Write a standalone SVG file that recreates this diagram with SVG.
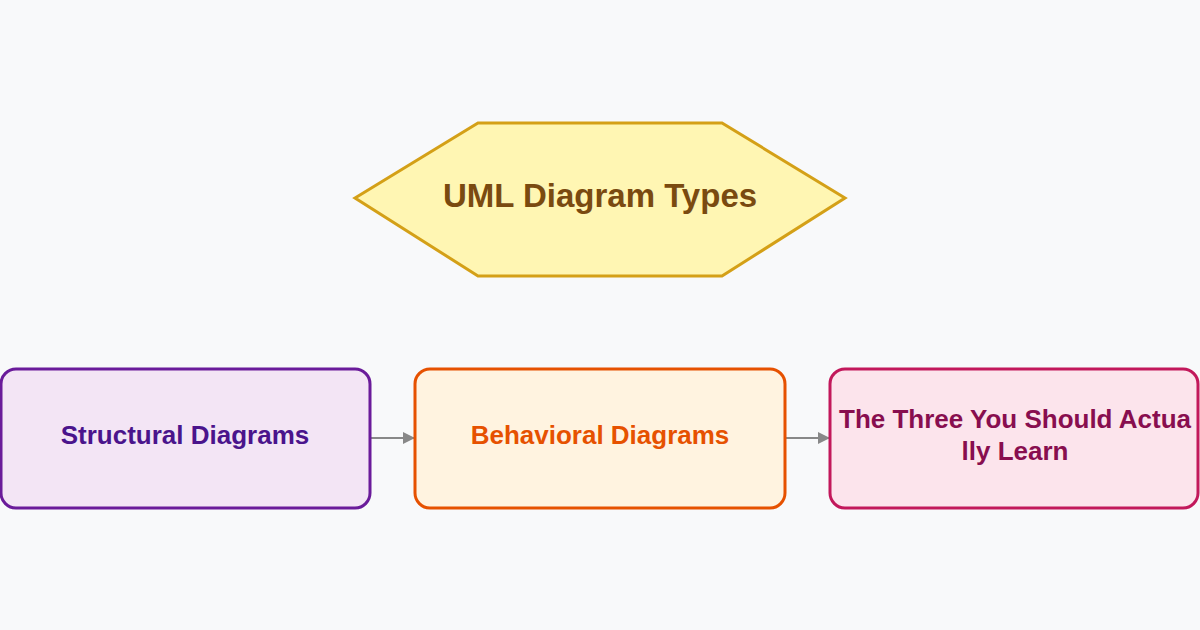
<svg xmlns="http://www.w3.org/2000/svg" width="1200" height="630" viewBox="0 0 1200 630">
<style>
text{font-family:"Liberation Sans",Arial,sans-serif;font-weight:bold;text-anchor:middle}
.b{stroke-width:3}
</style>
<defs><marker id="ar" markerWidth="12" markerHeight="12" refX="11" refY="6" orient="auto" markerUnits="userSpaceOnUse"><path d="M0,0 L12,6 L0,12 z" fill="#888"/></marker></defs>
<rect width="1200" height="630" fill="#f8f9fa"/>
<g id="title"><polygon points="355,198 478,123 722,123 845,198 722,276 478,276" fill="#fff6b3" stroke="#d4a017" stroke-width="3"/>
<text x="600" y="207" font-size="33" fill="#7a4a10">UML Diagram Types</text></g>
<g id="connectors" stroke="#888" stroke-width="2"><line x1="370" y1="438" x2="414" y2="438" marker-end="url(#ar)"/><line x1="785" y1="438" x2="829" y2="438" marker-end="url(#ar)"/></g>
<g id="structural"><rect class="b" x="1" y="369" width="369" height="139" rx="15" fill="#f3e5f5" stroke="#6a1b9a"/><text x="185" y="444" font-size="26" fill="#4a148c">Structural Diagrams</text></g>
<g id="behavioral"><rect class="b" x="415" y="369" width="370" height="139" rx="15" fill="#fff3e0" stroke="#e65100"/><text x="600" y="444" font-size="26" fill="#e65100">Behavioral Diagrams</text></g>
<g id="three"><rect class="b" x="830" y="369" width="368" height="139" rx="15" fill="#fce4ec" stroke="#c2185b"/><text x="1015" y="428" font-size="26" fill="#880e4f">The Three You Should Actua</text><text x="1015" y="460" font-size="26" fill="#880e4f">lly Learn</text></g>
</svg>
